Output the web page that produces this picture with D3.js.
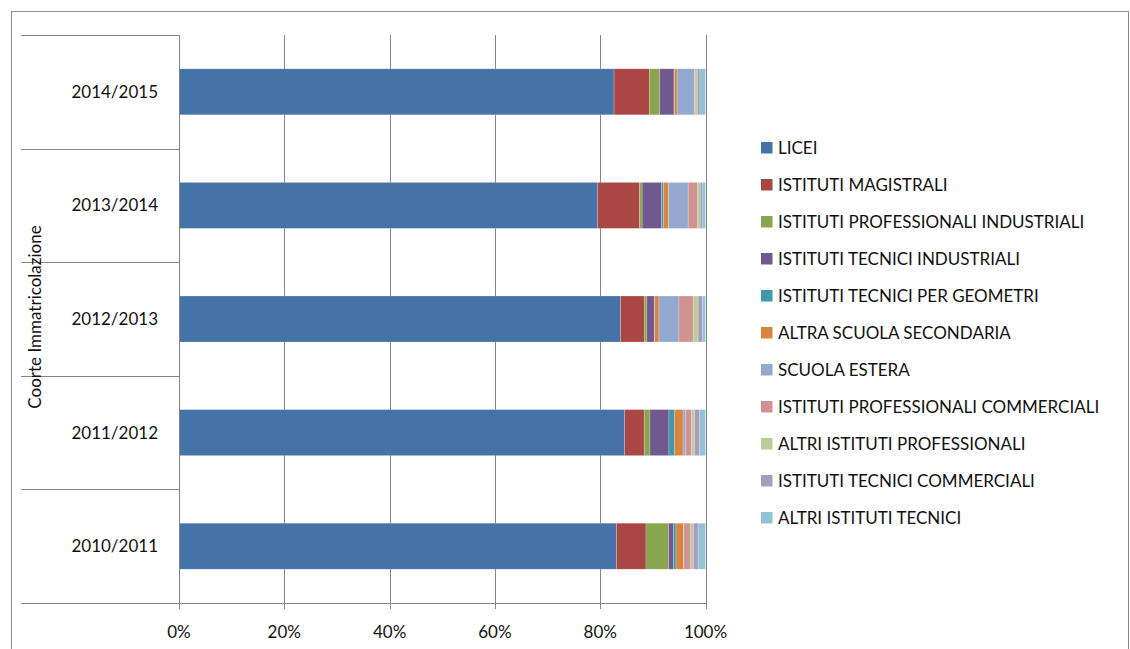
<!DOCTYPE html>
<html>
  <head>
    <meta charset="utf-8">
    <title>Coorte Immatricolazione</title>
    <script src="https://d3js.org/d3.v7.min.js"></script>
    <style>
      body { margin: 0; background: #fff; }
      text { font-family: Lato, "Open Sans", sans-serif; fill: #111; }
    </style>
  </head>
  <body>
    <div id="chart"></div>
    <script>
      // cohorts, bottom to top as in the picture
      var cohorts = ["2010/2011", "2011/2012", "2012/2013", "2013/2014", "2014/2015"];

      var seriesNames = [
        "LICEI",
        "ISTITUTI MAGISTRALI",
        "ISTITUTI PROFESSIONALI INDUSTRIALI",
        "ISTITUTI TECNICI INDUSTRIALI",
        "ISTITUTI TECNICI PER GEOMETRI",
        "ALTRA SCUOLA SECONDARIA",
        "SCUOLA ESTERA",
        "ISTITUTI PROFESSIONALI COMMERCIALI",
        "ALTRI ISTITUTI PROFESSIONALI",
        "ISTITUTI TECNICI COMMERCIALI",
        "ALTRI ISTITUTI TECNICI"
      ];

      var colors = ["#4572A7", "#AA4643", "#89A54E", "#71588F", "#4198AF", "#DB843D",
                    "#93A9CF", "#D19392", "#B9CD96", "#A99BBD", "#91C3D5"];

      // percentage per cohort (same order as cohorts)
      var licei       = [83.1, 84.7, 84.0, 79.6, 82.8];
      var magistrali  = [5.6, 3.7, 4.5, 8.0, 6.7];
      var profInd     = [4.3, 1.1, 0.5, 0.5, 2.0];
      var tecInd      = [0.9, 3.6, 1.4, 3.7, 2.7];
      var geometri    = [0.5, 1.1, 0.1, 0.4, 0.1];
      var altraScuola = [1.4, 1.6, 0.8, 0.95, 0.5];
      var estera      = [0.1, 0.5, 3.8, 3.7, 3.3];
      var profComm    = [1.3, 1.1, 2.7, 1.8, 0.1];
      var altriProf   = [0.5, 0.6, 0.95, 0.5, 0.45];
      var tecComm     = [0.9, 0.95, 0.8, 0.4, 0.5];
      var altriTec    = [1.4, 1.1, 0.6, 0.6, 1.05];

      var xTicks = [0, 0.2, 0.4, 0.6, 0.8, 1];

      var allSeries = [licei, magistrali, profInd, tecInd, geometri, altraScuola,
                       estera, profComm, altriProf, tecComm, altriTec];

      var rows = cohorts.map(function(c, i) {
        var r = { cohort: c };
        seriesNames.forEach(function(name, j) { r[name] = allSeries[j][i]; });
        return r;
      });

      var width = 1130, height = 649;
      var svg = d3.select("#chart").append("svg")
        .attr("width", width)
        .attr("height", height);

      // outer chart border
      svg.append("rect")
        .attr("x", 11.5).attr("y", 11.5)
        .attr("width", 1117).attr("height", 660)
        .attr("fill", "none")
        .attr("stroke", "#8c8c8c");

      var x = d3.scaleLinear().domain([0, 1]).range([179, 705.5]);
      var y = d3.scaleBand()
        .domain(cohorts.slice().reverse())
        .range([35, 603])
        .paddingInner(0.595)
        .paddingOuter(0.2975);

      // vertical gridlines
      svg.append("g").selectAll("line")
        .data(xTicks.slice(1))
        .enter().append("line")
        .attr("x1", function(d) { return Math.round(x(d)) + 0.5; })
        .attr("x2", function(d) { return Math.round(x(d)) + 0.5; })
        .attr("y1", 35).attr("y2", 603)
        .attr("stroke", "#868686");

      var stack = d3.stack().keys(seriesNames).offset(d3.stackOffsetExpand);
      var layers = stack(rows);

      svg.append("g").selectAll("g")
        .data(layers)
        .enter().append("g")
        .attr("fill", function(d, i) { return colors[i]; })
        .selectAll("rect")
        .data(function(d) { return d; })
        .enter().append("rect")
        .attr("x", function(d) { return x(d[0]); })
        .attr("width", function(d) { return Math.max(0, x(d[1]) - x(d[0])); })
        .attr("y", function(d) { return y(d.data.cohort); })
        .attr("height", y.bandwidth())
        .attr("stroke", "#ffffff")
        .attr("stroke-opacity", 0.35)
        .attr("stroke-width", 0.6);

      // value axis line + ticks
      svg.append("line")
        .attr("x1", 21).attr("x2", 706)
        .attr("y1", 603.5).attr("y2", 603.5)
        .attr("stroke", "#868686");

      svg.append("g").selectAll("line")
        .data(xTicks)
        .enter().append("line")
        .attr("x1", function(d) { return Math.round(x(d)) + 0.5; })
        .attr("x2", function(d) { return Math.round(x(d)) + 0.5; })
        .attr("y1", 603).attr("y2", 609)
        .attr("stroke", "#868686");

      svg.append("g").selectAll("text")
        .data(xTicks)
        .enter().append("text")
        .attr("x", function(d) { return x(d); })
        .attr("y", 638)
        .attr("text-anchor", "middle")
        .style("font-size", "17px")
        .text(function(d) { return d3.format(".0%")(d); });

      // category axis
      svg.append("line")
        .attr("x1", 179.5).attr("x2", 179.5)
        .attr("y1", 35).attr("y2", 603)
        .attr("stroke", "#868686");

      var step = y.step();
      var bounds = cohorts.map(function(c) { return y(c) - y.paddingOuter() * step; });
      bounds.push(603);
      svg.append("g").selectAll("line")
        .data(bounds)
        .enter().append("line")
        .attr("x1", 21).attr("x2", 179)
        .attr("y1", function(d) { return Math.round(d) + 0.5; })
        .attr("y2", function(d) { return Math.round(d) + 0.5; })
        .attr("stroke", "#868686");

      svg.append("g").selectAll("text")
        .data(cohorts)
        .enter().append("text")
        .attr("x", 158)
        .attr("y", function(d) { return y(d) + y.bandwidth() / 2; })
        .attr("dy", "0.35em")
        .attr("text-anchor", "end")
        .style("font-size", "17px")
        .text(function(d) { return d; });

      svg.append("text")
        .attr("transform", "translate(41,317) rotate(-90)")
        .attr("text-anchor", "middle")
        .style("font-size", "17px")
        .text("Coorte Immatricolazione");

      // legend
      var legend = svg.append("g").attr("transform", "translate(761,142)");
      var items = legend.selectAll("g")
        .data(seriesNames)
        .enter().append("g")
        .attr("transform", function(d, i) { return "translate(0," + (i * 37) + ")"; });

      items.append("rect")
        .attr("width", 11.5).attr("height", 11.5)
        .attr("fill", function(d, i) { return colors[i]; });

      items.append("text")
        .attr("x", 17)
        .attr("y", 6)
        .attr("dy", "0.35em")
        .style("font-size", "17px")
        .text(function(d) { return d; });
    </script>
  </body>
</html>
